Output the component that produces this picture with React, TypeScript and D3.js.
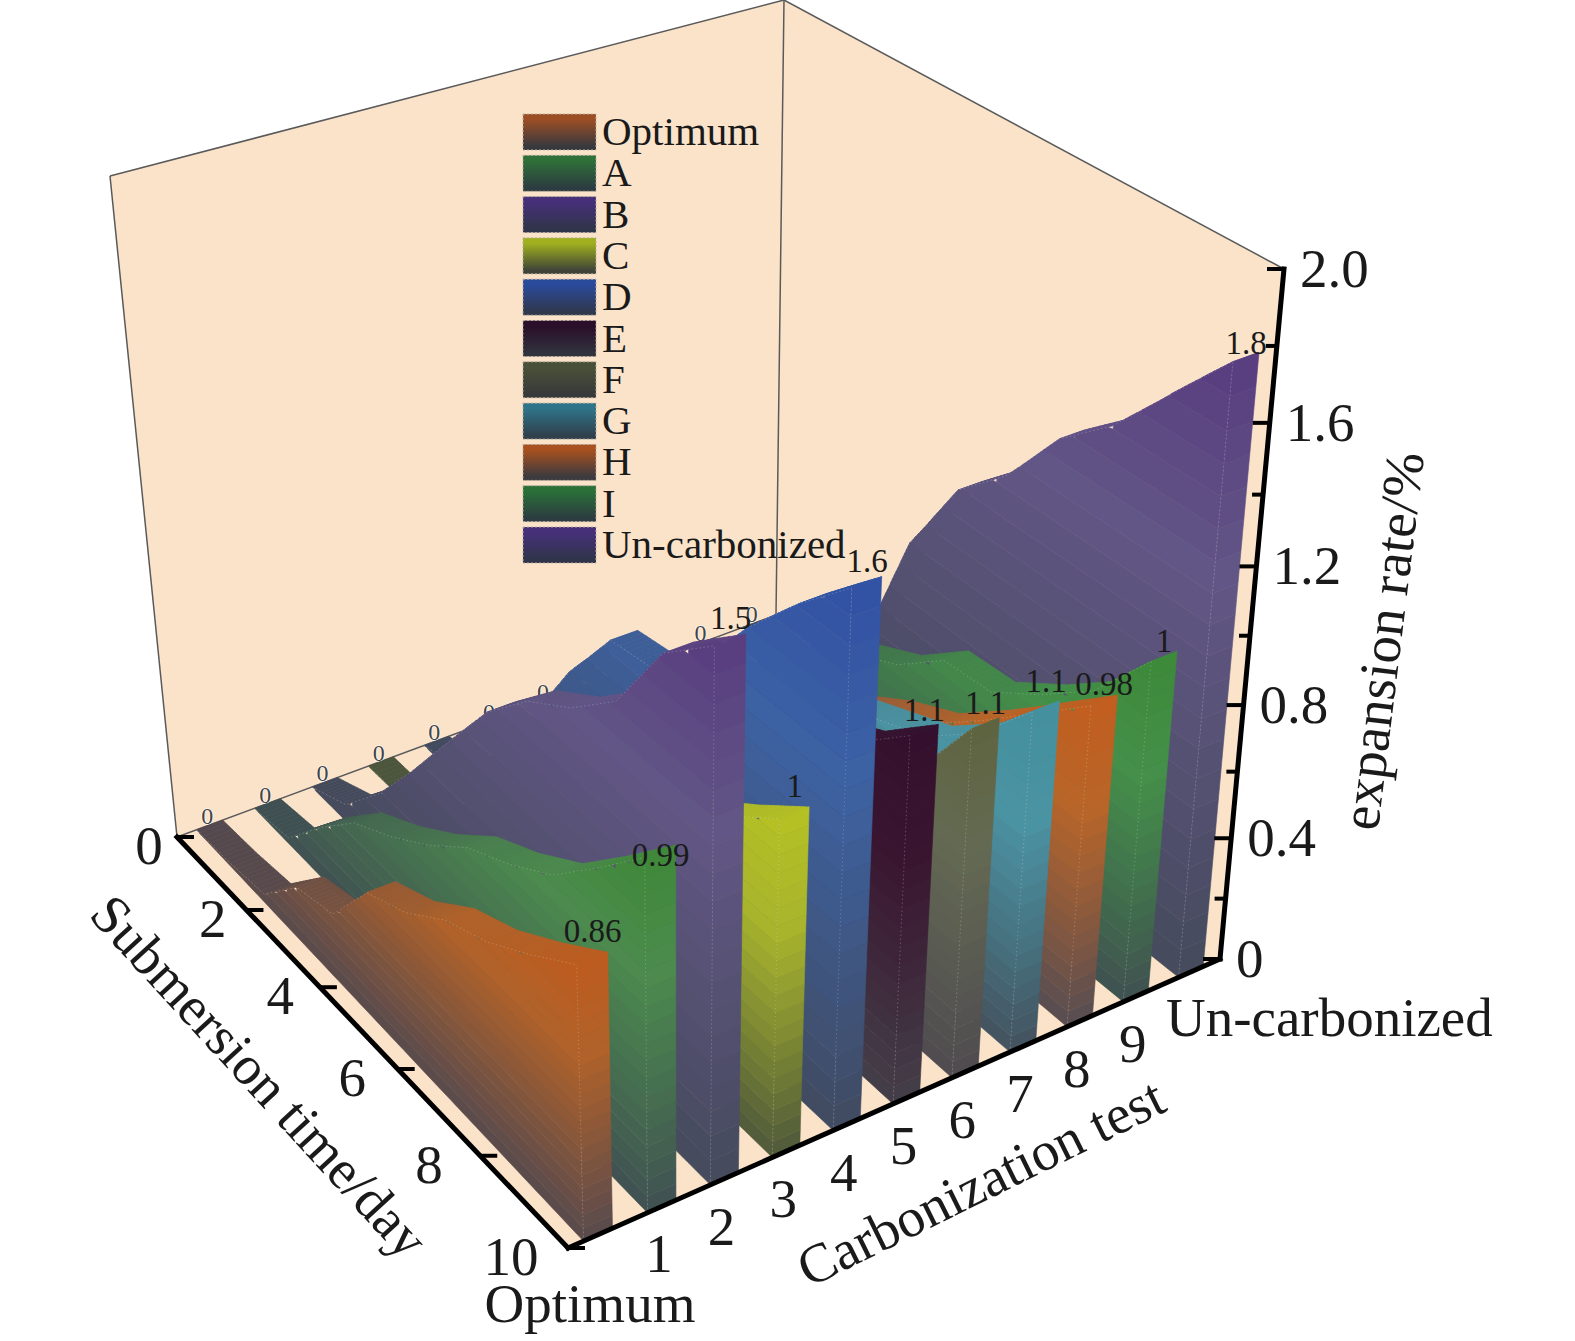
import React, { useEffect, useRef } from 'react';
import * as d3 from 'd3';

const width = 1575;
const height = 1341;

// series, front to back along the carbonization axis
const seriesNames = ['Optimum', 'A', 'B', 'C', 'D', 'E', 'F', 'G', 'H', 'I', 'Un-carbonized'];
const testLabels = ['Optimum', '1', '2', '3', '4', '5', '6', '7', '8', '9', 'Un-carbonized'];
const days = [0, 1, 2, 3, 4, 5, 6, 7, 8, 9, 10];

const optimumValues = [0, 0.01, 0.03, 0.18, 0.22, 0.42, 0.48, 0.58, 0.64, 0.73, 0.83];
const aValues = [0, 0.02, 0.18, 0.32, 0.4, 0.49, 0.6, 0.67, 0.76, 0.9, 1.05];
const bValues = [0, 0.06, 0.22, 0.42, 0.62, 0.82, 0.96, 1.05, 1.18, 1.42, 1.55];
const cValues = [0, 0, 0.05, 0.25, 0.4, 0.5, 0.6, 0.7, 0.8, 0.9, 1.01];
const dValues = [0, 0.04, 0.2, 0.45, 0.7, 0.9, 0.92, 1.05, 1.25, 1.42, 1.57];
const eValues = [0, 0.02, 0.2, 0.45, 0.6, 0.7, 0.8, 0.85, 0.9, 0.97, 1.1];
const fValues = [0, 0.02, 0.2, 0.4, 0.52, 0.58, 0.62, 0.7, 0.76, 0.82, 1.05];
const gValues = [0, 0.02, 0.15, 0.35, 0.48, 0.56, 0.62, 0.68, 0.74, 0.86, 1.03];
const hValues = [0, 0.02, 0.12, 0.26, 0.36, 0.44, 0.53, 0.6, 0.72, 0.85, 0.98];
const iValues = [0, 0.02, 0.15, 0.28, 0.43, 0.5, 0.62, 0.63, 0.73, 0.85, 1.04];
const unValues = [0, 0.02, 0.1, 0.3, 0.72, 0.98, 1.12, 1.32, 1.45, 1.63, 1.8];
const allValues = [optimumValues, aValues, bValues, cValues, dValues, eValues, fValues, gValues, hValues, iValues, unValues];
const endLabels = ['0.86', '0.99', '1.5', '1', '1.6', '1.1', '1.1', '1.1', '0.98', '1', '1.8'];
const endLabelNudge = [-7, 24, -2, -7, -1, 0, -1, -6, 3, 4, 6];

const topColors = ['#bd5c20', '#40893a', '#5a3f80', '#b4c024', '#3252a4', '#34102e', '#5f6440', '#44909f', '#c25e20', '#3d8a3a', '#5a3f80'];
const midColors = ['#b0622a', '#4c8a4e', '#625686', '#a8b42c', '#3d62a4', '#3a1530', '#646a52', '#4a93a3', '#b8652a', '#44904a', '#625686'];
const baseColors = ['#54494e', '#3f4f52', '#444a5a', '#4c563c', '#414a5e', '#44404a', '#4e4a50', '#43505c', '#544c54', '#3f4f50', '#444a5a'];
const legendTop = ['#9c4e25', '#2f6f38', '#46307a', '#a0b01e', '#2a4a9c', '#2a0e2a', '#4a5038', '#2f7488', '#a8501f', '#2a7038', '#46307a'];
const legendBottom = ['#38393e', '#2c3c40', '#30344a', '#3f4438', '#30384e', '#30323c', '#383a3a', '#30404c', '#3c3a3e', '#2c3c40', '#30344a'];

const zTicks = [0, 0.2, 0.4, 0.6, 0.8, 1.0, 1.2, 1.4, 1.6, 1.8, 2.0];
const zLabels = ['0', '0.4', '0.8', '1.2', '1.6', '2.0'];
const dayTicks = [0, 2, 4, 6, 8, 10];

type Pt = [number, number];

// unit square -> quad, corners in order (0,0) (1,0) (1,1) (0,1)
function homography(q: Pt[]) {
  const [[x0, y0], [x1, y1], [x2, y2], [x3, y3]] = q;
  const dx1 = x1 - x2, dx2 = x3 - x2, sx = x0 - x1 + x2 - x3;
  const dy1 = y1 - y2, dy2 = y3 - y2, sy = y0 - y1 + y2 - y3;
  const det = dx1 * dy2 - dx2 * dy1;
  const g = (sx * dy2 - dx2 * sy) / det;
  const h = (dx1 * sy - sx * dy1) / det;
  const a = x1 - x0 + g * x1, b = x3 - x0 + h * x3;
  const d = y1 - y0 + g * y1, e = y3 - y0 + h * y3;
  return (u: number, v: number): Pt => {
    const w = g * u + h * v + 1;
    return [(a * u + b * v + x0) / w, (d * u + e * v + y0) / w];
  };
}

const floorCorners: Pt[] = [[177, 837], [776, 615], [1220, 959], [568, 1248]];
const roofCorners: Pt[] = [[110, 176], [784, 0], [1284, 269], [547, 526]];
const floorMap = homography(floorCorners);
const roofMap = homography(roofCorners);

const xScale = d3.scaleLinear().domain([0, 11]).range([0, 1]);
const dayScale = d3.scaleLinear().domain([0, 10]).range([0, 1]);
const zScale = d3.scaleLinear().domain([0, 0.4, 0.8, 1.2, 1.6, 2]).range([0, 0.175, 0.368, 0.569, 0.777, 1]);

function project(x: number, t: number, z: number): Pt {
  const u = xScale(x), v = dayScale(t), f = zScale(z);
  const a = floorMap(u, v), b = roofMap(u, v);
  return [a[0] + (b[0] - a[0]) * f, a[1] + (b[1] - a[1]) * f];
}

// the stripes drift slightly towards the near corner
const stripeStart = d3.scaleLinear().domain([0, 10]).range([0.33, 0.24]);
const stripeWidth = 0.45;
const bandCount = 20;
const tSamples = d3.range(0, 10.001, 0.1);
const line = d3.line<Pt>();
const closed = (pts: Pt[]) => line(pts) + 'Z';
const serif = '"Liberation Serif", serif';

const App = () => {
  const svgRef = useRef<SVGSVGElement | null>(null);

  useEffect(() => {
    if (!svgRef.current) return;
    const svg = d3.select(svgRef.current);
    svg.selectAll('*').remove();
    const defs = svg.append('defs');

    // walls and floor
    const wallFill = '#fbe3ca';
    const leftWall: Pt[] = [floorCorners[0], roofCorners[0], roofCorners[1], floorCorners[1]];
    const rightWall: Pt[] = [floorCorners[1], roofCorners[1], roofCorners[2], floorCorners[2]];
    [leftWall, rightWall, floorCorners].forEach(q => {
      svg.append('path').attr('d', closed(q)).attr('fill', wallFill);
    });
    const thin = [
      [floorCorners[0], roofCorners[0]],
      [roofCorners[0], roofCorners[1]],
      [roofCorners[1], roofCorners[2]],
      [roofCorners[1], floorCorners[1]],
      [floorCorners[0], floorCorners[1]],
    ] as Pt[][];
    thin.forEach(s => {
      svg.append('path').attr('d', line(s)).attr('stroke', '#5a5a5a').attr('stroke-width', 1.5).attr('fill', 'none');
    });

    // zero labels sit on the back edge, behind the walls
    seriesNames.forEach((_, k) => {
      const p = project(k + 0.5, 0, 0);
      svg.append('text')
        .attr('x', p[0] + 1).attr('y', p[1] - 2)
        .attr('text-anchor', 'middle')
        .attr('font-family', serif).attr('font-size', 24)
        .attr('fill', '#444').attr('stroke', '#fff').attr('stroke-width', 1.2)
        .attr('paint-order', 'stroke')
        .text('0');
    });

    // walls from the far end to the near end
    d3.range(seriesNames.length - 1, -1, -1).forEach(k => {
      const values = allValues[k];
      const maxV = d3.max(values)!;
      const valueAt = d3.scaleLinear().domain(days).range(values);
      const colorAt = d3.scaleLinear<string>()
        .domain([0, 0.7, 1])
        .range([baseColors[k], midColors[k], topColors[k]])
        .interpolate(d3.interpolateRgb);
      const band = (z: number) => colorAt(Math.min(z / maxV, 1));
      const g = svg.append('g');
      const x0 = (t: number) => k + stripeStart(t);
      const x1 = (t: number) => k + stripeStart(t) + stripeWidth;

      // top surface
      d3.pairs(tSamples).forEach(([a, b]) => {
        const q: Pt[] = [
          project(x0(a), a, valueAt(a)), project(x1(a), a, valueAt(a)),
          project(x1(b), b, valueAt(b)), project(x0(b), b, valueAt(b)),
        ];
        const col = band((valueAt(a) + valueAt(b)) / 2);
        g.append('path').attr('d', closed(q)).attr('fill', col).attr('stroke', col).attr('stroke-width', 0.7);
      });

      const step = maxV / bandCount;
      d3.range(bandCount).forEach(i => {
        const lo = i * step, hi = (i + 1) * step;
        const col = band(hi);
        // long side of the wall
        const keep = tSamples.filter(t => valueAt(t) > lo);
        if (keep.length > 1) {
          const upper = keep.map(t => project(x0(t), t, Math.min(valueAt(t), hi)));
          const lower = keep.map(t => project(x0(t), t, lo)).reverse();
          g.append('path').attr('d', closed([...upper, ...lower])).attr('fill', col).attr('stroke', col).attr('stroke-width', 0.6);
        }
        // end cap at day 10
        const cap: Pt[] = [project(x0(10), 10, lo), project(x1(10), 10, lo), project(x1(10), 10, hi), project(x0(10), 10, hi)];
        g.append('path').attr('d', closed(cap)).attr('fill', col).attr('stroke', col).attr('stroke-width', 0.6);
      });

      // dotted mesh lines
      const mesh = [
        days.map(t => project(x0(t), t, valueAt(t))),
        [project(x0(10), 10, 0), project(x0(10), 10, maxV)],
      ];
      mesh.forEach(m => {
        g.append('path').attr('d', line(m)).attr('fill', 'none')
          .attr('stroke', '#ffffff').attr('stroke-opacity', 0.22)
          .attr('stroke-width', 1).attr('stroke-dasharray', '1.5 2.5');
      });
    });

    // end-of-series value labels
    seriesNames.forEach((_, k) => {
      const p = project(k + 0.5, 10, allValues[k][10]);
      svg.append('text')
        .attr('x', p[0] - 2).attr('y', p[1] - 8 + endLabelNudge[k])
        .attr('text-anchor', 'middle')
        .attr('font-family', serif).attr('font-size', 33).attr('fill', '#1a1a1a')
        .text(endLabels[k]);
    });

    // axes
    const axisStroke = '#000';
    const drawAxis = (a: Pt, b: Pt) => svg.append('path').attr('d', line([a, b]))
      .attr('stroke', axisStroke).attr('stroke-width', 5).attr('stroke-linecap', 'square');
    drawAxis(project(0, 0, 0), project(0, 10, 0));
    drawAxis(project(0, 10, 0), project(11, 10, 0));
    drawAxis(project(11, 10, 0), project(11, 10, 2));

    dayTicks.forEach(t => {
      const p = project(0, t, 0);
      svg.append('line').attr('x1', p[0]).attr('x2', p[0] + 17).attr('y1', p[1]).attr('y2', p[1])
        .attr('stroke', axisStroke).attr('stroke-width', 4);
      svg.append('text')
        .attr('x', p[0] - 28 - 2.9 * t).attr('y', p[1] + 27)
        .attr('text-anchor', 'middle')
        .attr('font-family', serif).attr('font-size', 55).attr('fill', '#1a1a1a')
        .text(t);
    });

    zTicks.forEach((z, i) => {
      const p = project(11, 10, z);
      const major = i % 2 === 0;
      svg.append('line').attr('x1', p[0] - (major ? 17 : 11)).attr('x2', p[0]).attr('y1', p[1]).attr('y2', p[1])
        .attr('stroke', axisStroke).attr('stroke-width', 4);
      if (major) {
        svg.append('text')
          .attr('x', p[0] + 16).attr('y', p[1] + 18)
          .attr('font-family', serif).attr('font-size', 55).attr('fill', '#1a1a1a')
          .text(zLabels[i / 2]);
      }
    });

    testLabels.forEach((label, k) => {
      const p = project(k + 0.5, 10, 0);
      const el = svg.append('text')
        .attr('font-family', serif).attr('font-size', 55).attr('fill', '#1a1a1a').text(label);
      if (k === 0) el.attr('x', 590).attr('y', 1322).attr('text-anchor', 'middle');
      else if (k === testLabels.length - 1) el.attr('x', 1166).attr('y', 1036);
      else el.attr('x', p[0] - 5).attr('y', p[1] + 67).attr('text-anchor', 'middle');
    });

    const title = (text: string, x: number, y: number, angle: number) => {
      svg.append('text')
        .attr('transform', `translate(${x},${y}) rotate(${angle})`)
        .attr('text-anchor', 'middle')
        .attr('font-family', serif).attr('font-size', 55).attr('fill', '#1a1a1a')
        .text(text);
    };
    title('Submersion time/day', 246, 1089, 47.5);
    title('Carbonization test', 989, 1199, -26.3);
    title('expansion rate/%', 1401, 643, -83);

    // legend
    const legendY = d3.scaleLinear().domain([0, 10]).range([132, 545]);
    seriesNames.forEach((name, k) => {
      const id = `legend-${k}`;
      const grad = defs.append('linearGradient').attr('id', id).attr('x1', 0).attr('x2', 0).attr('y1', 0).attr('y2', 1);
      grad.append('stop').attr('offset', '15%').attr('stop-color', legendTop[k]);
      grad.append('stop').attr('offset', '90%').attr('stop-color', legendBottom[k]);
      const y = legendY(k);
      svg.append('rect')
        .attr('x', 523).attr('y', y - 18).attr('width', 73).attr('height', 36)
        .attr('fill', `url(#${id})`)
        .attr('stroke', '#b8b0a0').attr('stroke-width', 1).attr('stroke-dasharray', '2 2');
      svg.append('text')
        .attr('x', 602).attr('y', y + 13)
        .attr('font-family', serif).attr('font-size', 41).attr('fill', '#1a1a1a')
        .text(name);
    });
  }, []);

  return (
    <svg
      ref={svgRef}
      width={width}
      height={height}
      viewBox={`0 0 ${width} ${height}`}
      style={{ position: 'absolute', left: 0, top: 0 }}
    />
  );
};

export default App;
